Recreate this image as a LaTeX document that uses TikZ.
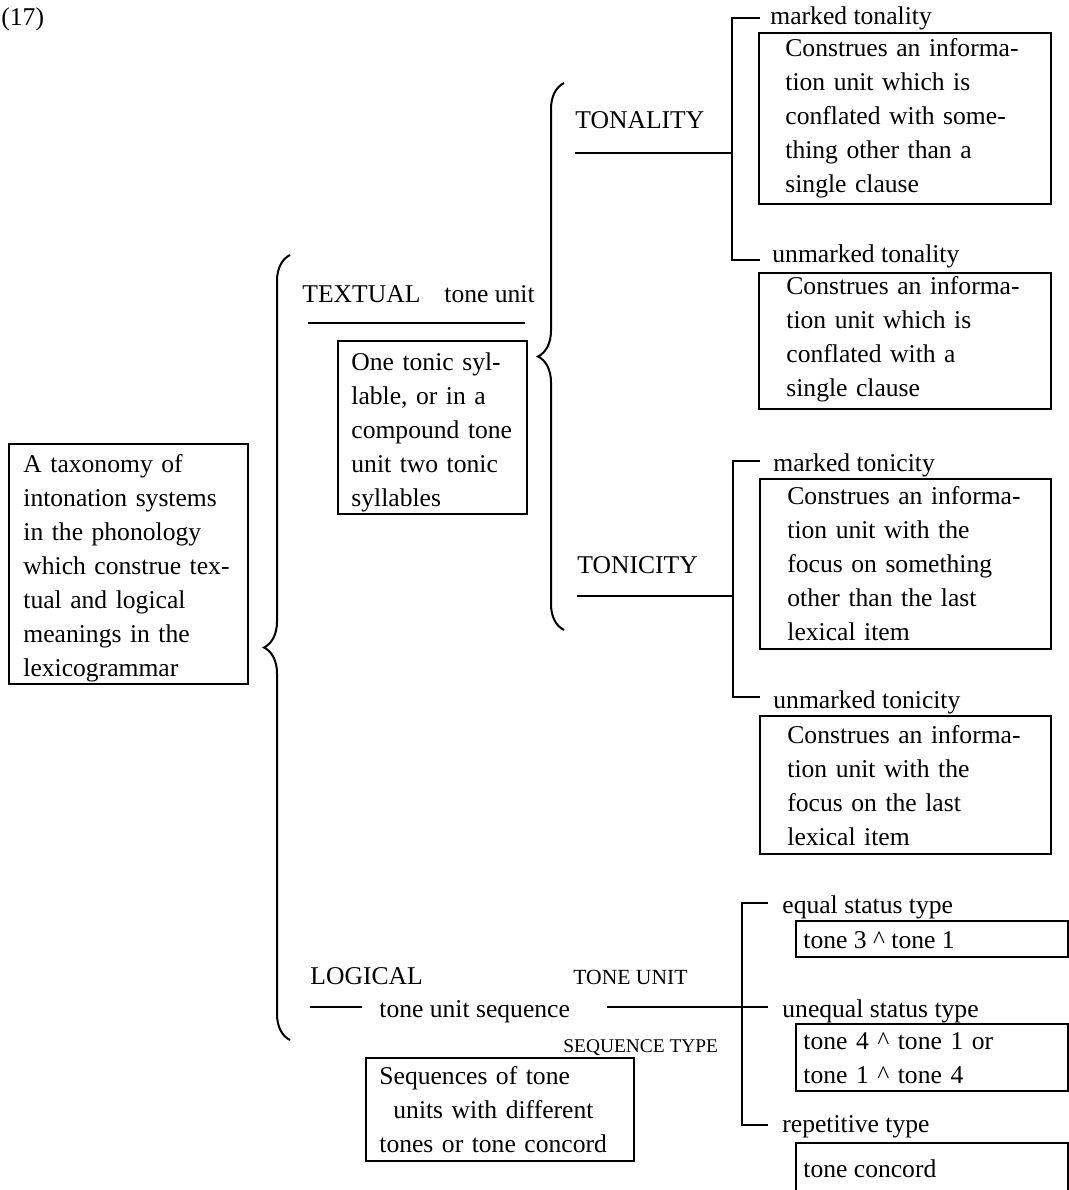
\documentclass[tikz,border=0pt]{standalone}
\usepackage{fontspec}
\setmainfont{Liberation Serif}
\usetikzlibrary{decorations.pathreplacing}
\begin{document}
\begin{tikzpicture}[x=0.5pt,y=-0.5pt,
  every node/.style={font=\fontsize{12.8pt}{17pt}\selectfont},
  lbl/.style={inner sep=0pt, anchor=base west},
  para/.style={inner sep=0pt, anchor=base west, align=left, text width=#1},
  boxframe/.style={draw, line width=1pt, inner sep=0pt, anchor=north west},
  ln/.style={line width=1pt},
  brc/.style={line width=1pt, decorate, decoration={brace, amplitude=13pt}},
  small/.style={font=\fontsize{10.8pt}{12pt}\selectfont},
  smaller/.style={font=\fontsize{9.7pt}{11pt}\selectfont}
]
\useasboundingbox (0,0) rectangle (1069,1190);
\clip (0,0) rectangle (1069,1190);

% number
\node[lbl] (num) at (1,25) {(17)};

% root box
\node[boxframe, minimum width=119.5pt, minimum height=120pt] (rootbox) at (8,443) {};
\node[para=112pt] (roottext) at (23,472) {A taxonomy of\\intonation systems\\in the phonology\\which construe tex-\\tual and logical\\meanings in the\\lexicogrammar};

% big brace
\coordinate (bigB) at (290,1040);
\coordinate (bigT) at (290,255);
\draw[brc] (bigB) -- (bigT);

% TEXTUAL
\node[lbl] (textual) at (302,302) {TEXTUAL\hspace*{12pt}tone unit};
\coordinate (tuL) at (308,323);
\coordinate (tuR) at (525,323);
\draw[ln] (tuL) -- (tuR);
\node[boxframe, minimum width=94.5pt, minimum height=86.5pt] (tbox) at (337,340) {};
\node[para=86pt] (ttext) at (351,370) {One tonic syl-\\lable, or in a\\compound tone\\unit two tonic\\syllables};

% middle brace
\coordinate (midB) at (564,630);
\coordinate (midT) at (564,83);
\draw[brc] (midB) -- (midT);

% TONALITY
\node[lbl] (tonality) at (575,128) {TONALITY};
\coordinate (tyL) at (575,153);
\coordinate (tyJ) at (732,153);
\coordinate (tyT) at (732,18);
\coordinate (tyB) at (732,260);
\coordinate (tyTe) at (760,18);
\coordinate (tyBe) at (760,260);
\draw[ln] (tyL) -- (tyJ);
\draw[ln] (tyTe) -- (tyT) -- (tyB) -- (tyBe);

\node[lbl] (mty) at (770,24) {marked tonality};
\node[boxframe, minimum width=146pt, minimum height=85.5pt] (b1) at (758,32) {};
\node[para=132pt] (b1t) at (785,56) {Construes an informa-\\tion unit which is\\conflated with some-\\thing other than a\\single clause};

\node[lbl] (umty) at (772,262) {unmarked tonality};
\node[boxframe, minimum width=146pt, minimum height=68pt] (b2) at (758,272) {};
\node[para=132pt] (b2t) at (786,294) {Construes an informa-\\tion unit which is\\conflated with a\\single clause};

% TONICITY
\node[lbl] (tonicity) at (577,573) {TONICITY};
\coordinate (tcL) at (577,596);
\coordinate (tcJ) at (733,596);
\coordinate (tcT) at (733,461);
\coordinate (tcB) at (733,697);
\coordinate (tcTe) at (760,461);
\coordinate (tcBe) at (760,697);
\draw[ln] (tcL) -- (tcJ);
\draw[ln] (tcTe) -- (tcT) -- (tcB) -- (tcBe);

\node[lbl] (mtc) at (773,471) {marked tonicity};
\node[boxframe, minimum width=145.5pt, minimum height=85pt] (b3) at (759,478) {};
\node[para=131pt] (b3t) at (787,504) {Construes an informa-\\tion unit with the\\focus on something\\other than the last\\lexical item};

\node[lbl] (umtc) at (773,708) {unmarked tonicity};
\node[boxframe, minimum width=145.5pt, minimum height=69pt] (b4) at (759,715) {};
\node[para=131pt] (b4t) at (787,743) {Construes an informa-\\tion unit with the\\focus on the last\\lexical item};

% LOGICAL
\node[lbl] (logical) at (310,984) {LOGICAL};
\node[lbl, small] (toneunit) at (573,984) {TONE UNIT};
\node[lbl] (tus) at (379,1017) {tone unit sequence};
\node[lbl, smaller] (seqtype) at (563,1052) {SEQUENCE TYPE};
\coordinate (lgL) at (310,1007);
\coordinate (lgLe) at (362,1007);
\coordinate (lgR) at (607,1007);
\coordinate (lgRe) at (768,1007);
\draw[ln] (lgL) -- (lgLe);
\draw[ln] (lgR) -- (lgRe);
\node[boxframe, minimum width=134pt, minimum height=51.5pt] (sbox) at (365,1057) {};
\node[para=125pt] (stext) at (379,1084) {Sequences of tone\\\hspace*{7pt}units with different\\tones or tone concord};

\coordinate (sqT) at (742,903);
\coordinate (sqB) at (742,1125);
\coordinate (sqTe) at (768,903);
\coordinate (sqBe) at (768,1125);
\draw[ln] (sqTe) -- (sqT) -- (sqB) -- (sqBe);

\node[lbl] (est) at (782,913) {equal status type};
\node[boxframe, minimum width=136pt, minimum height=18pt] (e1) at (795,920) {};
\node[lbl] (e1t) at (803,948) {tone 3 \textasciicircum{} tone 1};

\node[lbl] (ust) at (782,1017) {unequal status type};
\node[boxframe, minimum width=136pt, minimum height=33.5pt] (e2) at (795,1023) {};
\node[para=125pt] (e2t) at (803,1049) {tone 4 \textasciicircum{} tone 1 or\\tone 1 \textasciicircum{} tone 4};

\node[lbl] (rt) at (782,1132) {repetitive type};
\node[boxframe, minimum width=136pt, minimum height=35pt] (e3) at (795,1142) {};
\node[lbl] (e3t) at (803,1177) {tone concord};
\end{tikzpicture}
\end{document}
